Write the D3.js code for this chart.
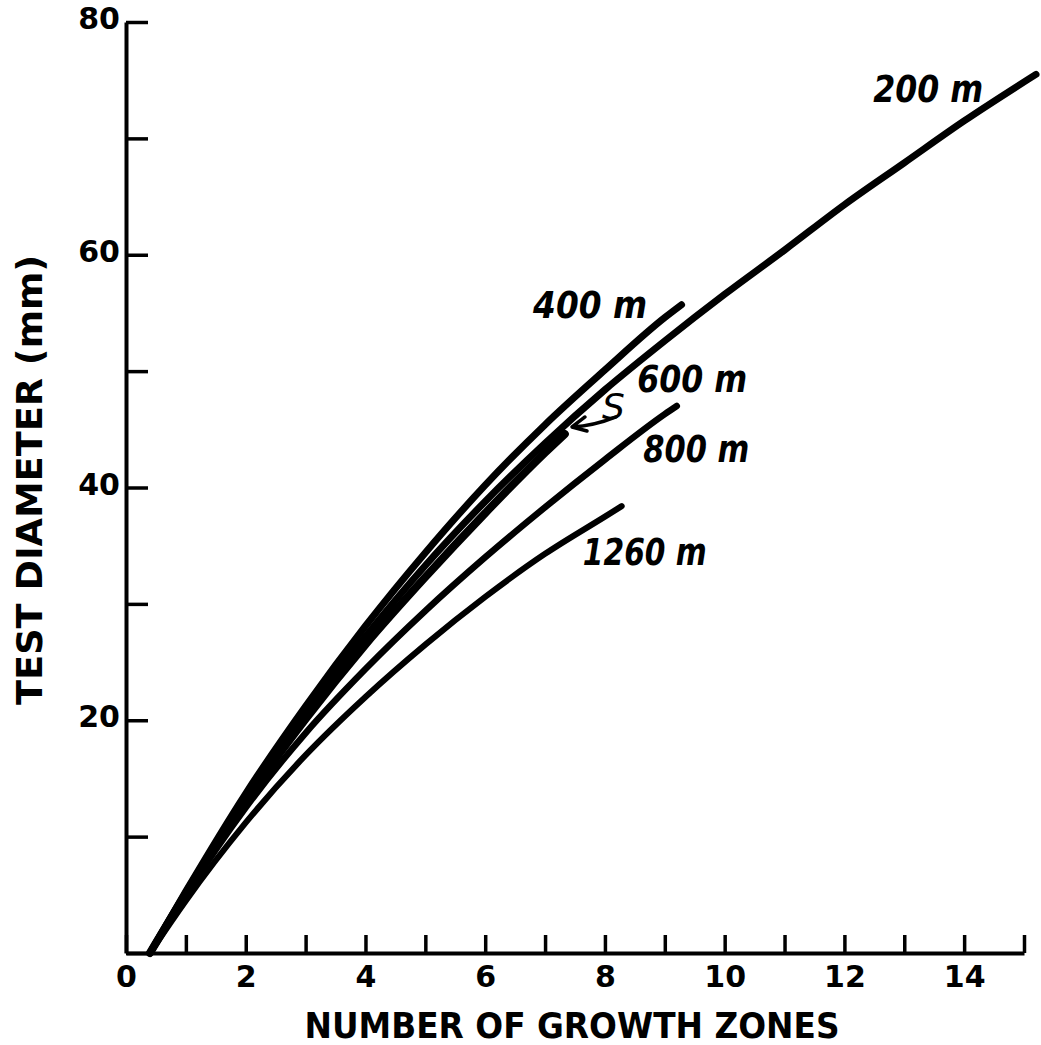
<!DOCTYPE html>
<html>
<head>
<meta charset="utf-8">
<script src="https://cdn.jsdelivr.net/npm/d3@7"></script>
<style>
  body { margin: 0; background: #fff; }
  svg { display: block; }
  .axis path, .axis line { stroke: #000; }
  .axis text { font-family: 'DejaVu Sans', sans-serif; font-weight: bold; fill: #000; }
</style>
</head>
<body>
<div id="chart"></div>
<script>
// Growth curves: zones (x) vs test diameter in mm (y)
var zones200 = [0.4, 1, 2, 3, 4, 5, 6, 7, 8, 9, 10, 11, 12, 13, 14, 15.2];
var diam200 = [0, 5.2, 13.4, 20.6, 27.2, 33.3, 38.8, 43.8, 48.4, 52.6, 56.6, 60.4, 64.3, 67.9, 71.5, 75.5];

var zones400 = [0.4, 1, 2, 3, 4, 5, 6, 7, 8, 9, 9.28];
var diam400 = [0, 5.3, 13.7, 21.2, 28.1, 34.4, 40.2, 45.4, 50.1, 54.6, 55.7];

var zones600 = [0.4, 1, 2, 3, 4, 5, 6, 7, 7.33];
var diam600 = [0, 5.1, 13.1, 20.1, 26.5, 32.3, 37.8, 43.0, 44.6];

var zones800 = [0.4, 1, 2, 3, 4, 5, 6, 7, 8, 9, 9.2];
var diam800 = [0, 5.0, 12.5, 18.9, 24.4, 29.4, 34.0, 38.3, 42.4, 46.3, 47.0];

var zones1260 = [0.4, 1, 2, 3, 4, 5, 6, 7, 8, 8.28];
var diam1260 = [0, 4.5, 11.2, 17.0, 22.0, 26.5, 30.6, 34.3, 37.5, 38.4];

// Axis ticks and labels
var xTickValues = [0, 1, 2, 3, 4, 5, 6, 7, 8, 9, 10, 11, 12, 13, 14, 15];
var xLabelValues = [0, 2, 4, 6, 8, 10, 12, 14];
var yTickValues = [0, 10, 20, 30, 40, 50, 60, 70, 80];
var yLabelValues = [20, 40, 60, 80];

var series = [
  { name: '200 m', zones: zones200, diam: diam200, width: 7 },
  { name: '400 m', zones: zones400, diam: diam400, width: 7 },
  { name: '600 m', zones: zones600, diam: diam600, width: 8 },
  { name: '800 m', zones: zones800, diam: diam800, width: 6.5 },
  { name: '1260 m', zones: zones1260, diam: diam1260, width: 6 }
];

// label anchor (data units) and drawn width (px)
var labelPos = {
  '200 m': [12.48, 73.1, 110],
  '400 m': [6.8, 54.6, 114],
  '600 m': [8.54, 48.2, 110],
  '800 m': [8.64, 42.2, 106],
  '1260 m': [7.63, 33.3, 124]
};

var width = 1041, height = 1045;

var x = d3.scaleLinear().domain([0, 15]).range([126, 1024]);
var y = d3.scaleLinear().domain([0, 80]).range([953, 22]);

var svg = d3.select('#chart').append('svg')
  .attr('width', width)
  .attr('height', height)
  .style('background', '#fff');

// x axis, ticks pointing up into the plot
var xAxis = svg.append('g')
  .attr('class', 'axis')
  .attr('transform', 'translate(0,' + y(0) + ')')
  .call(d3.axisBottom(x)
    .tickValues(xTickValues)
    .tickSizeInner(-18)
    .tickSizeOuter(0)
    .tickPadding(13)
    .tickFormat(function (d) { return xLabelValues.indexOf(d) >= 0 ? d : ''; }));
xAxis.select('.domain').attr('stroke-width', 4);
xAxis.selectAll('.tick line').attr('stroke-width', 3.5);
xAxis.selectAll('.tick text').attr('font-size', 30);

// y axis, ticks pointing right into the plot
var yAxis = svg.append('g')
  .attr('class', 'axis')
  .attr('transform', 'translate(' + x(0) + ',0)')
  .call(d3.axisLeft(y)
    .tickValues(yTickValues)
    .tickSizeInner(-22)
    .tickSizeOuter(0)
    .tickPadding(6)
    .tickFormat(function (d) { return yLabelValues.indexOf(d) >= 0 ? d : ''; }));
yAxis.select('.domain').attr('stroke-width', 4);
yAxis.selectAll('.tick line').attr('stroke-width', 3.5);
yAxis.selectAll('.tick text').attr('font-size', 30).attr('dy', '0.22em');

// curves
var line = d3.line()
  .x(function (d) { return x(d[0]); })
  .y(function (d) { return y(d[1]); })
  .curve(d3.curveMonotoneX);

svg.append('g').selectAll('path')
  .data(series)
  .join('path')
  .attr('d', function (s) { return line(s.zones.map(function (z, i) { return [z, s.diam[i]]; })); })
  .attr('fill', 'none')
  .attr('stroke', '#000')
  .attr('stroke-width', function (s) { return s.width; })
  .attr('stroke-linecap', 'round');

// curve labels
svg.append('g').selectAll('text')
  .data(series)
  .join('text')
  .attr('x', function (s) { return x(labelPos[s.name][0]); })
  .attr('y', function (s) { return y(labelPos[s.name][1]); })
  .attr('textLength', function (s) { return labelPos[s.name][2]; })
  .attr('lengthAdjust', 'spacingAndGlyphs')
  .attr('font-family', "'DejaVu Sans', sans-serif")
  .attr('font-style', 'italic')
  .attr('font-weight', 'bold')
  .attr('font-size', 37)
  .attr('fill', '#000')
  .text(function (s) { return s.name; });

// "S" with arrow pointing at the end of the short curve
svg.append('text')
  .attr('x', x(7.95))
  .attr('y', y(45.9))
  .attr('font-family', "'DejaVu Sans', sans-serif")
  .attr('font-style', 'italic')
  .attr('font-size', 36)
  .text('S');
var tip = [x(7.45), y(45.2)];
svg.append('path')
  .attr('d', 'M' + (tip[0] + 44) + ',' + (tip[1] - 10) +
    ' Q' + (tip[0] + 22) + ',' + (tip[1] - 1) + ' ' + tip[0] + ',' + tip[1] +
    ' M' + (tip[0] + 13) + ',' + (tip[1] - 10) + ' L' + tip[0] + ',' + tip[1] +
    ' L' + (tip[0] + 15) + ',' + (tip[1] + 4))
  .attr('fill', 'none')
  .attr('stroke', '#000')
  .attr('stroke-width', 3.5)
  .attr('stroke-linecap', 'round')
  .attr('stroke-linejoin', 'round');

// axis titles
svg.append('text')
  .attr('x', 572)
  .attr('y', 1038)
  .attr('text-anchor', 'middle')
  .attr('font-family', "'DejaVu Sans', sans-serif")
  .attr('font-weight', 'bold')
  .attr('font-size', 35)
  .attr('textLength', 535)
  .attr('lengthAdjust', 'spacingAndGlyphs')
  .text('NUMBER OF GROWTH ZONES');

svg.append('text')
  .attr('transform', 'translate(42,480) rotate(-90)')
  .attr('text-anchor', 'middle')
  .attr('font-family', "'DejaVu Sans', sans-serif")
  .attr('font-weight', 'bold')
  .attr('font-size', 35)
  .attr('textLength', 450)
  .attr('lengthAdjust', 'spacingAndGlyphs')
  .text('TEST DIAMETER (mm)');
</script>
</body>
</html>
